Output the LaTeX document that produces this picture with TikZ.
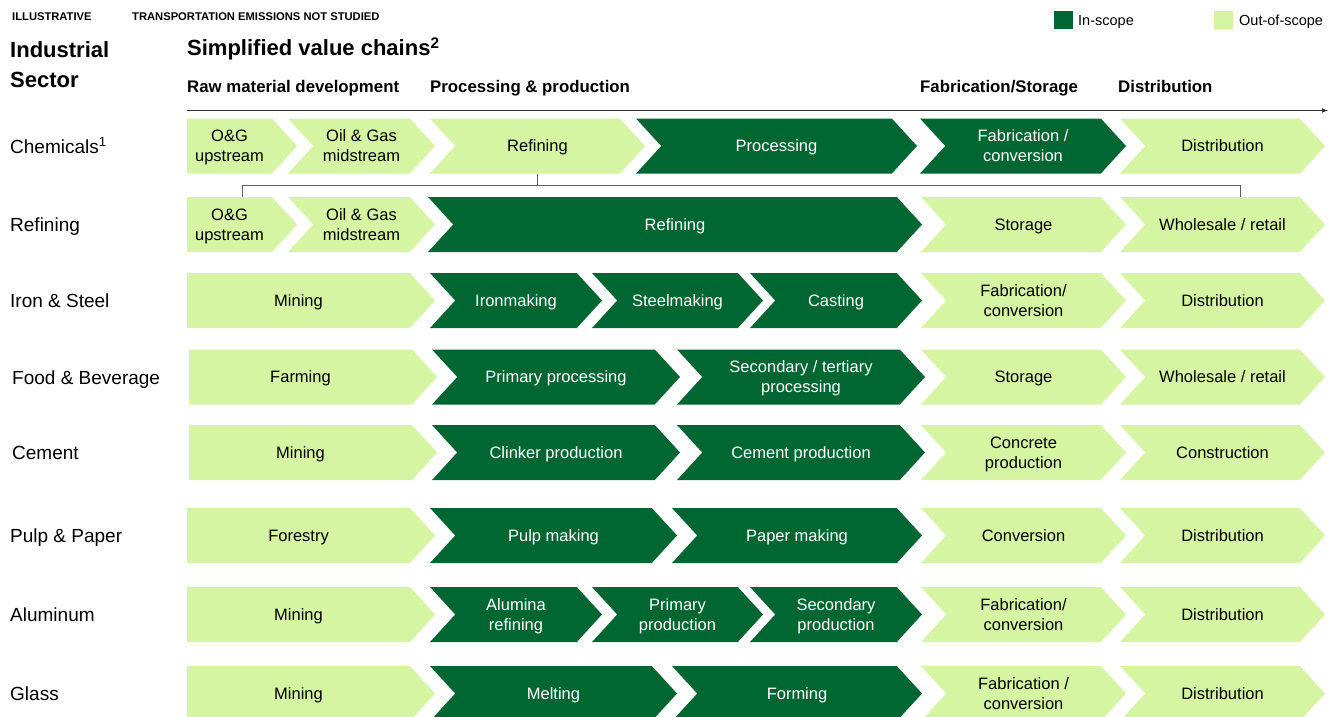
\documentclass[tikz,border=0pt]{standalone}
\usepackage{fontspec}
\setmainfont{Liberation Sans}
\usetikzlibrary{shapes.symbols,positioning}
\definecolor{ingreen}{RGB}{0,102,50}
\definecolor{outgreen}{RGB}{213,245,162}
\definecolor{rulegray}{RGB}{95,95,95}
\definecolor{axisgray}{RGB}{50,50,50}

\begin{document}
\begin{tikzpicture}[x=1pt,y=-1pt]
 \tikzstyle{chev}=[signal,signal to=east,signal pointer angle=95,minimum height=55,inner sep=0pt,text depth=0pt,align=center,font=\fontsize{16.5}{20}\selectfont]
 \tikzstyle{chevnext}=[chev,signal from=west]
 \tikzstyle{insc}=[fill=ingreen,text=white]
 \tikzstyle{outsc}=[fill=outgreen,text=black]
 \tikzstyle{sector}=[anchor=base west,inner sep=0pt,font=\fontsize{19}{23}\selectfont]
 \tikzstyle{head}=[anchor=base west,inner sep=0pt,font=\bfseries\fontsize{16.8}{20}\selectfont]
 \tikzstyle{title}=[anchor=base west,inner sep=0pt,font=\bfseries\fontsize{22}{26}\selectfont]
 \tikzstyle{note}=[anchor=base west,inner sep=0pt,font=\bfseries\fontsize{11.2}{13}\selectfont]
 \tikzstyle{legbox}=[minimum width=19,minimum height=18,inner sep=0pt]
 \tikzstyle{legtext}=[anchor=base west,inner sep=0pt,font=\fontsize{14.5}{17}\selectfont]
 \tikzstyle{bracket}=[draw=rulegray,line width=1pt]
 \tikzstyle{axis}=[->,>=latex,draw=axisgray,line width=1pt]
 \useasboundingbox (0,0) rectangle (1330,717);
 %
 \node[note] (illus) at (12,20.5) {ILLUSTRATIVE};
 \node[note] (transp) at (132,20.5) {TRANSPORTATION EMISSIONS NOT STUDIED};
 \node[legbox,fill=ingreen] (legIn) at (1063,20.5) {};
 \node[legtext] (legInTxt) at (1078,25.5) {In-scope};
 \node[legbox,fill=outgreen] (legOut) at (1223.5,20.5) {};
 \node[legtext] (legOutTxt) at (1239,25.5) {Out-of-scope};
 %
 \node[title] (indHead) at (10,57) {Industrial};
 \node[title] (secHead) at (10,88) {Sector};
 \node[title] (chainHead) at (187,56) {Simplified value chains\textsuperscript{2}};
 \node[head] (rawHead) at (187,92.5) {Raw material development};
 \node[head] (procHead) at (430,92.5) {Processing \& production};
 \node[head] (fabHead) at (920,92.5) {Fabrication/Storage};
 \node[head] (distHead) at (1118,92.5) {Distribution};
 \coordinate (axisStart) at (187,110.5);
 \coordinate (axisEnd) at (1328,110.5);
 \draw[axis] (axisStart) -- (axisEnd);
 %
 \node[sector] (chemLbl) at (10,153) {Chemicals\textsuperscript{1}};
 \node[sector] (refLbl) at (10,231.5) {Refining};
 \node[sector] (ironLbl) at (10,307.5) {Iron \& Steel};
 \node[sector] (foodLbl) at (12,384) {Food \& Beverage};
 \node[sector] (cemLbl) at (12,459.5) {Cement};
 \node[sector] (pulpLbl) at (10,542.5) {Pulp \& Paper};
 \node[sector] (aluLbl) at (10,621.5) {Aluminum};
 \node[sector] (glassLbl) at (10,700.5) {Glass};
 %
 \node[chev,outsc,minimum width=110] (chemUp) at (229.5,146) {O\&G\\upstream};
 \node[chevnext,outsc,minimum width=147] (chemMid) at (361.5,146) {Oil \& Gas\\midstream};
 \node[chevnext,outsc,minimum width=215] (chemRef) at (537.5,146) {Refining};
 \node[chevnext,insc,minimum width=281] (chemProc) at (776.5,146) {Processing};
 \node[chevnext,insc,minimum width=206] (chemFab) at (1023,146) {Fabrication /\\conversion};
 \node[chevnext,outsc,minimum width=205] (chemDist) at (1222.5,146) {Distribution};
 %
 \node[chev,outsc,minimum width=110] (refUp) at (229.5,224.5) {O\&G\\upstream};
 \node[chevnext,outsc,minimum width=147] (refMid) at (361.5,224.5) {Oil \& Gas\\midstream};
 \node[chevnext,insc,minimum width=494] (refProc) at (675,224.5) {Refining};
 \node[chevnext,outsc,minimum width=205] (refStore) at (1023.5,224.5) {Storage};
 \node[chevnext,outsc,minimum width=205] (refSell) at (1222.5,224.5) {Wholesale / retail};
 %
 \node[chev,outsc,minimum width=248] (ironMine) at (298.5,300.5) {Mining};
 \node[chevnext,insc,minimum width=172] (ironIron) at (516,300.5) {Ironmaking};
 \node[chevnext,insc,minimum width=171] (ironSteel) at (677.5,300.5) {Steelmaking};
 \node[chevnext,insc,minimum width=172] (ironCast) at (836,300.5) {Casting};
 \node[chevnext,outsc,minimum width=205] (ironFab) at (1023.5,300.5) {Fabrication/\\conversion};
 \node[chevnext,outsc,minimum width=205] (ironDist) at (1222.5,300.5) {Distribution};
 %
 \node[chev,outsc,minimum width=248] (foodFarm) at (300.5,377) {Farming};
 \node[chevnext,insc,minimum width=248] (foodPrim) at (556,377) {Primary processing};
 \node[chevnext,insc,minimum width=248] (foodSec) at (801,377) {Secondary / tertiary\\processing};
 \node[chevnext,outsc,minimum width=205] (foodStore) at (1023.5,377) {Storage};
 \node[chevnext,outsc,minimum width=205] (foodSell) at (1222.5,377) {Wholesale / retail};
 %
 \node[chev,outsc,minimum width=248] (cemMine) at (300.5,452.5) {Mining};
 \node[chevnext,insc,minimum width=248] (cemClink) at (556,452.5) {Clinker production};
 \node[chevnext,insc,minimum width=248] (cemCem) at (801,452.5) {Cement production};
 \node[chevnext,outsc,minimum width=205] (cemConc) at (1023.5,452.5) {Concrete\\production};
 \node[chevnext,outsc,minimum width=205] (cemBuild) at (1222.5,452.5) {Construction};
 %
 \node[chev,outsc,minimum width=248] (pulpForest) at (298.5,535.5) {Forestry};
 \node[chevnext,insc,minimum width=247] (pulpPulp) at (553.5,535.5) {Pulp making};
 \node[chevnext,insc,minimum width=250] (pulpPaper) at (797,535.5) {Paper making};
 \node[chevnext,outsc,minimum width=205] (pulpConv) at (1023.5,535.5) {Conversion};
 \node[chevnext,outsc,minimum width=205] (pulpDist) at (1222.5,535.5) {Distribution};
 %
 \node[chev,outsc,minimum width=248] (aluMine) at (298.5,614.5) {Mining};
 \node[chevnext,insc,minimum width=172] (aluAlumina) at (516,614.5) {Alumina\\refining};
 \node[chevnext,insc,minimum width=171] (aluPrim) at (677.5,614.5) {Primary\\production};
 \node[chevnext,insc,minimum width=172] (aluSec) at (836,614.5) {Secondary\\production};
 \node[chevnext,outsc,minimum width=205] (aluFab) at (1023.5,614.5) {Fabrication/\\conversion};
 \node[chevnext,outsc,minimum width=205] (aluDist) at (1222.5,614.5) {Distribution};
 %
 \node[chev,outsc,minimum width=248] (glassMine) at (298.5,693.5) {Mining};
 \node[chevnext,insc,minimum width=247] (glassMelt) at (553.5,693.5) {Melting};
 \node[chevnext,insc,minimum width=250] (glassForm) at (797,693.5) {Forming};
 \node[chevnext,outsc,minimum width=205] (glassFab) at (1023.5,693.5) {Fabrication /\\conversion};
 \node[chevnext,outsc,minimum width=205] (glassDist) at (1222.5,693.5) {Distribution};
 %
 \coordinate (brL) at (242,185);
 \coordinate (brR) at (1240,185);
 \draw[bracket] (chemRef.south) -- (chemRef.south |- brL);
 \draw[bracket] (refUp.north -| brL) -- (brL) -- (brR) -- (brR |- refSell.north);
\end{tikzpicture}
\end{document}
